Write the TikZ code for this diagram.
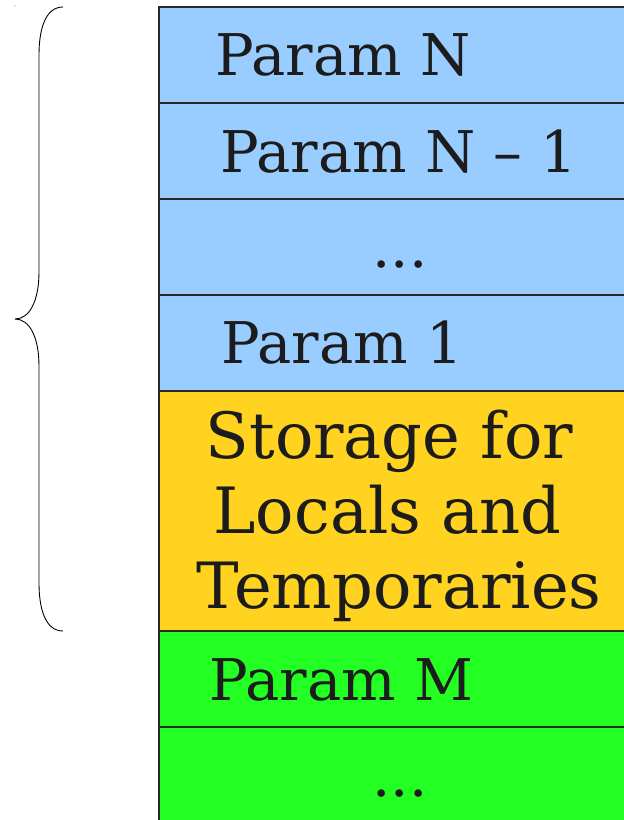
\documentclass[tikz,border=0pt]{standalone}
\usepackage{fontspec}
\setmainfont{DejaVu Serif}
\definecolor{parblue}{HTML}{99CCFF}
\definecolor{locyellow}{HTML}{FFD320}
\definecolor{argreen}{HTML}{23FF23}
\definecolor{inkdark}{HTML}{1C1C1C}
\definecolor{rule}{HTML}{2A2A2A}
\tikzset{
  cell/.style={draw=rule, line width=1.2pt},
  label/.style={inner sep=0pt, text=inkdark, font=\fontsize{57.5}{75}\selectfont},
  biglabel/.style={label, font=\fontsize{63.8}{75}\selectfont},
  brace/.style={draw=black, line width=0.9pt, line join=round}
}
\begin{document}
\begin{tikzpicture}[x=1pt, y=-1pt]
\useasboundingbox (0,0) rectangle (624,820);
\begin{scope}
\clip (0,0) rectangle (624,820);
% stack of frame cells, top to bottom
\filldraw[cell, fill=parblue]   (159,7)   rectangle (640,103);
\filldraw[cell, fill=parblue]   (159,103) rectangle (640,199);
\filldraw[cell, fill=parblue]   (159,199) rectangle (640,295);
\filldraw[cell, fill=parblue]   (159,295) rectangle (640,391);
\filldraw[cell, fill=locyellow] (159,391) rectangle (640,631);
\filldraw[cell, fill=argreen]   (159,631) rectangle (640,727);
\filldraw[cell, fill=argreen]   (159,727) rectangle (640,840);
\end{scope}
% cell labels
\node[label, anchor=base west] (pn)   at (215,75)  {Param N};
\node[label, anchor=base west] (pn1)  at (220,172) {Param N – 1};
\node[label, anchor=base]      (dots1) at (400,267) {...};
\node[label, anchor=base west] (p1)   at (221,363) {Param 1};
\node[biglabel, anchor=base, align=center] (loc) at (399,608)
  {Storage for\kern19pt\\Locals and\kern23pt\\Temporaries};
\node[label, anchor=base west] (pm)   at (209,700) {Param M};
\node[label, anchor=base]      (dots2) at (400,796) {...};
% brace spanning the parameters and locals
\path[brace] (63,7) .. controls (45,7) and (39,30) .. (39,55)
  -- (39,272) .. controls (39,300) and (30,319) .. (15,319)
  .. controls (30,319) and (39,338) .. (39,366)
  -- (39,583) .. controls (39,608) and (45,631) .. (63,631);
\fill[gray] (15,6) circle (0.6);
\end{tikzpicture}
\end{document}
